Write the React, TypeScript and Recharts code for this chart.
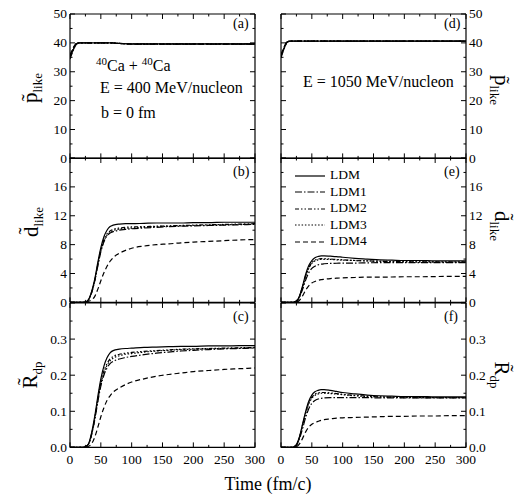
import React from 'react';
import { LineChart, Line, XAxis, YAxis, Legend } from 'recharts';

// time axis (fm/c)
const times = [0, 5, 10, 15, 20, 25, 30, 35, 40, 45, 50, 55, 60, 65, 70, 80, 90, 100, 120, 140, 160, 180, 200, 225, 250, 275, 300];

const seriesNames = ['LDM', 'LDM1', 'LDM2', 'LDM3', 'LDM4'];

// (a) p_like, E = 400 MeV/nucleon
const a_LDM = [35.0, 37.6, 39.6, 40.0, 40.0, 40.0, 40.0, 40.0, 40.0, 40.0, 40.0, 40.0, 40.0, 40.0, 39.95, 39.8, 39.7, 39.65, 39.65, 39.65, 39.65, 39.65, 39.65, 39.65, 39.65, 39.65, 39.65];
const a_LDM1 = [34.4, 37.2, 39.4, 39.95, 40.0, 40.0, 40.0, 40.0, 40.0, 40.0, 40.0, 40.0, 40.0, 40.0, 39.95, 39.8, 39.7, 39.6, 39.6, 39.6, 39.6, 39.6, 39.6, 39.6, 39.6, 39.6, 39.6];
const a_LDM2 = [35.4, 37.9, 39.7, 40.0, 40.0, 40.0, 40.0, 40.0, 40.0, 40.0, 40.0, 40.0, 40.0, 40.0, 39.95, 39.8, 39.7, 39.65, 39.65, 39.65, 39.65, 39.65, 39.65, 39.65, 39.65, 39.65, 39.65];
const a_LDM3 = [34.8, 37.4, 39.5, 40.0, 40.0, 40.0, 40.0, 40.0, 40.0, 40.0, 40.0, 40.0, 40.0, 40.0, 39.95, 39.8, 39.7, 39.6, 39.6, 39.6, 39.6, 39.6, 39.6, 39.6, 39.6, 39.6, 39.6];
const a_LDM4 = [35.8, 38.2, 39.8, 40.0, 40.0, 40.0, 40.0, 40.0, 40.0, 40.0, 40.0, 40.0, 40.0, 40.0, 39.95, 39.8, 39.7, 39.6, 39.6, 39.6, 39.6, 39.6, 39.6, 39.6, 39.6, 39.6, 39.6];

// (b) d_like, 400
const b_LDM = [0, 0, 0, 0, 0, 0.05, 0.4, 1.5, 3.2, 5.5, 7.6, 9.1, 10.0, 10.5, 10.7, 10.85, 10.9, 10.9, 10.95, 11.0, 11.0, 11.0, 11.05, 11.05, 11.1, 11.1, 11.1];
const b_LDM1 = [0, 0, 0, 0, 0, 0.05, 0.35, 1.3, 2.9, 5.0, 7.0, 8.4, 9.2, 9.6, 9.8, 10.0, 10.1, 10.2, 10.3, 10.4, 10.5, 10.55, 10.6, 10.65, 10.7, 10.75, 10.8];
const b_LDM2 = [0, 0, 0, 0, 0, 0.05, 0.35, 1.4, 3.0, 5.2, 7.3, 8.7, 9.5, 9.9, 10.1, 10.3, 10.4, 10.45, 10.5, 10.55, 10.6, 10.65, 10.7, 10.75, 10.8, 10.85, 10.9];
const b_LDM3 = [0, 0, 0, 0, 0, 0.05, 0.35, 1.35, 3.0, 5.1, 7.1, 8.5, 9.3, 9.7, 9.95, 10.15, 10.25, 10.3, 10.4, 10.5, 10.55, 10.6, 10.65, 10.7, 10.75, 10.8, 10.85];
const b_LDM4 = [0, 0, 0, 0, 0, 0, 0.15, 0.35, 0.8, 1.8, 3.0, 4.1, 5.0, 5.7, 6.2, 6.8, 7.2, 7.5, 7.8, 8.0, 8.1, 8.25, 8.35, 8.45, 8.55, 8.65, 8.7];

// (c) R_dp, 400
const c_LDM = [0, 0, 0, 0, 0, 0.002, 0.01, 0.04, 0.085, 0.14, 0.19, 0.225, 0.248, 0.262, 0.268, 0.272, 0.274, 0.275, 0.277, 0.278, 0.279, 0.28, 0.28, 0.281, 0.281, 0.282, 0.282];
const c_LDM1 = [0, 0, 0, 0, 0, 0.002, 0.009, 0.035, 0.075, 0.125, 0.17, 0.2, 0.22, 0.232, 0.238, 0.245, 0.249, 0.252, 0.257, 0.261, 0.264, 0.267, 0.269, 0.271, 0.273, 0.274, 0.275];
const c_LDM2 = [0, 0, 0, 0, 0, 0.002, 0.009, 0.037, 0.08, 0.133, 0.18, 0.212, 0.232, 0.245, 0.252, 0.258, 0.261, 0.263, 0.266, 0.268, 0.27, 0.272, 0.273, 0.274, 0.275, 0.276, 0.277];
const c_LDM3 = [0, 0, 0, 0, 0, 0.002, 0.009, 0.036, 0.078, 0.13, 0.176, 0.207, 0.227, 0.24, 0.247, 0.254, 0.258, 0.26, 0.264, 0.267, 0.269, 0.271, 0.272, 0.273, 0.274, 0.275, 0.276];
const c_LDM4 = [0, 0, 0, 0, 0, 0, 0.003, 0.01, 0.028, 0.055, 0.085, 0.11, 0.13, 0.143, 0.153, 0.165, 0.174, 0.181, 0.19, 0.197, 0.202, 0.206, 0.21, 0.213, 0.216, 0.218, 0.22];

// (d) p_like, E = 1050 MeV/nucleon
const d_LDM = [35.3, 38.2, 40.3, 40.6, 40.6, 40.6, 40.6, 40.6, 40.6, 40.6, 40.6, 40.6, 40.6, 40.6, 40.6, 40.6, 40.6, 40.6, 40.6, 40.6, 40.6, 40.6, 40.6, 40.6, 40.6, 40.6, 40.6];
const d_LDM1 = [34.8, 37.9, 40.2, 40.6, 40.6, 40.6, 40.6, 40.6, 40.6, 40.6, 40.6, 40.6, 40.6, 40.6, 40.6, 40.6, 40.6, 40.6, 40.6, 40.6, 40.6, 40.6, 40.6, 40.6, 40.6, 40.6, 40.6];
const d_LDM2 = [35.6, 38.4, 40.4, 40.6, 40.6, 40.6, 40.6, 40.6, 40.6, 40.6, 40.6, 40.6, 40.6, 40.6, 40.6, 40.6, 40.6, 40.6, 40.6, 40.6, 40.6, 40.6, 40.6, 40.6, 40.6, 40.6, 40.6];
const d_LDM3 = [35.0, 38.0, 40.2, 40.6, 40.6, 40.6, 40.6, 40.6, 40.6, 40.6, 40.6, 40.6, 40.6, 40.6, 40.6, 40.6, 40.6, 40.6, 40.6, 40.6, 40.6, 40.6, 40.6, 40.6, 40.6, 40.6, 40.6];
const d_LDM4 = [35.9, 38.6, 40.4, 40.6, 40.6, 40.6, 40.6, 40.6, 40.6, 40.6, 40.6, 40.6, 40.6, 40.6, 40.6, 40.6, 40.6, 40.6, 40.6, 40.6, 40.6, 40.6, 40.6, 40.6, 40.6, 40.6, 40.6];

// (e) d_like, 1050
const e_LDM = [0, 0, 0, 0, 0.02, 0.2, 0.9, 2.3, 3.9, 5.1, 5.8, 6.2, 6.35, 6.45, 6.45, 6.4, 6.35, 6.25, 6.1, 6.0, 5.9, 5.85, 5.8, 5.8, 5.75, 5.75, 5.75];
const e_LDM1 = [0, 0, 0, 0, 0.02, 0.15, 0.7, 1.8, 3.1, 4.1, 4.7, 5.0, 5.2, 5.3, 5.35, 5.4, 5.42, 5.45, 5.45, 5.48, 5.5, 5.5, 5.5, 5.5, 5.5, 5.5, 5.5];
const e_LDM2 = [0, 0, 0, 0, 0.02, 0.18, 0.85, 2.2, 3.7, 4.8, 5.5, 5.85, 6.0, 6.05, 6.05, 6.0, 5.95, 5.9, 5.8, 5.75, 5.7, 5.65, 5.65, 5.6, 5.6, 5.6, 5.6];
const e_LDM3 = [0, 0, 0, 0, 0.02, 0.18, 0.8, 2.1, 3.6, 4.7, 5.4, 5.75, 5.9, 5.95, 5.95, 5.95, 5.9, 5.85, 5.8, 5.75, 5.7, 5.65, 5.62, 5.6, 5.6, 5.58, 5.58];
const e_LDM4 = [0, 0, 0, 0, 0.01, 0.05, 0.3, 0.9, 1.7, 2.3, 2.7, 2.9, 3.05, 3.15, 3.2, 3.3, 3.35, 3.4, 3.45, 3.5, 3.5, 3.52, 3.55, 3.55, 3.58, 3.6, 3.6];

// (f) R_dp, 1050
const f_LDM = [0, 0, 0, 0, 0.001, 0.008, 0.03, 0.065, 0.1, 0.128, 0.145, 0.154, 0.158, 0.16, 0.16, 0.158, 0.155, 0.152, 0.148, 0.145, 0.143, 0.142, 0.141, 0.141, 0.14, 0.14, 0.14];
const f_LDM1 = [0, 0, 0, 0, 0.001, 0.006, 0.024, 0.052, 0.083, 0.107, 0.122, 0.13, 0.134, 0.136, 0.137, 0.138, 0.138, 0.138, 0.138, 0.138, 0.137, 0.137, 0.137, 0.137, 0.137, 0.137, 0.137];
const f_LDM2 = [0, 0, 0, 0, 0.001, 0.007, 0.028, 0.062, 0.096, 0.123, 0.139, 0.147, 0.151, 0.152, 0.152, 0.151, 0.149, 0.147, 0.144, 0.142, 0.14, 0.139, 0.139, 0.138, 0.138, 0.138, 0.138];
const f_LDM3 = [0, 0, 0, 0, 0.001, 0.007, 0.027, 0.06, 0.094, 0.12, 0.136, 0.144, 0.148, 0.15, 0.15, 0.149, 0.148, 0.146, 0.143, 0.141, 0.14, 0.139, 0.138, 0.138, 0.138, 0.138, 0.138];
const f_LDM4 = [0, 0, 0, 0, 0, 0.002, 0.01, 0.025, 0.043, 0.056, 0.064, 0.069, 0.072, 0.075, 0.077, 0.079, 0.081, 0.082, 0.083, 0.084, 0.085, 0.086, 0.086, 0.087, 0.087, 0.088, 0.088];

// tick positions (majors + minors)
const xTicks = [0, 25, 50, 75, 100, 125, 150, 175, 200, 225, 250, 275, 300];
const pTicks = [0, 5, 10, 15, 20, 25, 30, 35, 40, 45, 50];
const dTicks = [0, 2, 4, 6, 8, 10, 12, 14, 16, 18, 20];
const rTicks = [0, 0.05, 0.1, 0.15, 0.2, 0.25, 0.3, 0.35, 0.4];

const styles: Record<string, string | undefined> = {
  LDM: undefined,
  LDM1: '7 2 1.5 2',
  LDM2: '4 2 1.5 2 1.5 2',
  LDM3: '1.5 1.8',
  LDM4: '5 3',
};

const FONT = "'Liberation Serif', 'Times New Roman', serif";
const PW = 185;
const PH = 144.4;
const LAB = 42;
const PAD = 14;

const table = (cols: number[][]) =>
  times.map((t, i) => {
    const row: any = { t };
    seriesNames.forEach((n, k) => (row[n] = cols[k][i]));
    return row;
  });

const mkTick = (side: string, box: any, major: number, show: boolean, fmt: (v: number) => string, skip?: number) => (p: any) => {
  const v = p.payload.value;
  const isMajor = Math.abs(v / major - Math.round(v / major)) < 1e-6;
  const len = isMajor ? 5 : 2.5;
  const lab = show && isMajor && v !== skip;
  const ts = { fontFamily: FONT, fontSize: 13.5, fill: '#000' } as any;
  if (side === 'bottom' || side === 'top') {
    const x = p.x;
    const y0 = side === 'bottom' ? box.y1 : box.y0;
    const y1 = side === 'bottom' ? box.y1 - len : box.y0 + len;
    return (
      <g>
        <line x1={x} x2={x} y1={y0} y2={y1} stroke="#000" strokeWidth={1} />
        {lab && <text x={x} y={box.y1 + 17} textAnchor="middle" {...ts}>{fmt(v)}</text>}
      </g>
    );
  }
  const y = p.y;
  const x0 = side === 'left' ? box.x0 : box.x1;
  const x1 = side === 'left' ? box.x0 + len : box.x1 - len;
  return (
    <g>
      <line x1={x0} x2={x1} y1={y} y2={y} stroke="#000" strokeWidth={1} />
      {lab && (
        <text x={side === 'left' ? box.x0 - 3 : box.x1 + 3} y={y} dy="0.33em" textAnchor={side === 'left' ? 'end' : 'start'} {...ts}>
          {fmt(v)}
        </text>
      )}
    </g>
  );
};

const LegendBox = (props: any) => (
  <div style={{ fontFamily: FONT, fontSize: 13.5, lineHeight: '16.5px' }}>
    {(props.payload || []).map((e: any) => (
      <div key={e.value} style={{ display: 'flex', alignItems: 'center', height: 16.5 }}>
        <svg width={30} height={6} style={{ marginRight: 5 }}>
          <line x1={0} x2={30} y1={3} y2={3} stroke="#000" strokeWidth={1.2} strokeDasharray={styles[e.value]} />
        </svg>
        <span>{e.value}</span>
      </div>
    ))}
  </div>
);

type PanelProps = {
  left: number;
  top: number;
  data: any[];
  domain: [number, number];
  ticks: number[];
  major: number;
  fmt: (v: number) => string;
  side: 'left' | 'right';
  bottom?: boolean;
  skip?: number;
  legend?: boolean;
};

const intFmt = (v: number) => String(Math.round(v));
const decFmt = (v: number) => v.toFixed(1);

function Panel({ left, top, data, domain, ticks, major, fmt, side, bottom, skip, legend }: PanelProps) {
  const yl = side === 'left' ? LAB : PAD;
  const yr = side === 'left' ? PAD : LAB;
  const tb = 10;
  const bb = bottom ? 28 : 10;
  const box = { x0: yl, x1: yl + PW, y0: tb, y1: tb + PH };
  const axisLine = { stroke: '#000', strokeWidth: 1.2 };
  return (
    <div style={{ position: 'absolute', left: left - yl, top: top - tb }}>
      <LineChart width={yl + PW + yr} height={tb + PH + bb} data={data} margin={{ top: 0, right: 0, bottom: 0, left: 0 }}>
        <XAxis xAxisId="b" dataKey="t" type="number" domain={[0, 300]} ticks={xTicks} interval={0} allowDataOverflow orientation="bottom" height={bb} tickLine={false} axisLine={axisLine} tick={mkTick('bottom', box, 50, !!bottom, intFmt)} />
        <XAxis xAxisId="t" dataKey="t" type="number" domain={[0, 300]} ticks={xTicks} interval={0} allowDataOverflow orientation="top" height={tb} tickLine={false} axisLine={axisLine} tick={mkTick('top', box, 50, false, intFmt)} />
        <YAxis yAxisId="l" type="number" domain={domain} ticks={ticks} interval={0} allowDataOverflow orientation="left" width={yl} tickLine={false} axisLine={axisLine} tick={mkTick('left', box, major, side === 'left', fmt, skip)} />
        <YAxis yAxisId="r" type="number" domain={domain} ticks={ticks} interval={0} allowDataOverflow orientation="right" width={yr} tickLine={false} axisLine={axisLine} tick={mkTick('right', box, major, side === 'right', fmt, skip)} />
        {legend && (
          <Legend layout="vertical" align="center" verticalAlign="middle" content={<LegendBox />} wrapperStyle={{ position: 'absolute', left: yl + 14, top: 19, width: 'auto', height: 'auto' }} />
        )}
        {seriesNames.map((n) => (
          <Line key={n} xAxisId="b" yAxisId="l" dataKey={n} name={n} type="monotone" stroke="#000" strokeWidth={1.2} strokeDasharray={styles[n]} dot={false} isAnimationActive={false} />
        ))}
      </LineChart>
    </div>
  );
}

const abs = (x: number, y: number, extra: any = {}): any => ({
  position: 'absolute',
  left: x,
  top: y,
  fontFamily: FONT,
  color: '#000',
  whiteSpace: 'nowrap',
  lineHeight: 1,
  ...extra,
});

function YTitle({ x, y, main, sub, rot }: { x: number; y: number; main: string; sub: string; rot: number }) {
  return (
    <div style={abs(x, y, { transform: `translate(-50%, -50%) rotate(${rot}deg)`, fontSize: 21 })}>
      <span>{main}</span>
      <span style={{ fontSize: 13, position: 'relative', top: 5 }}>{sub}</span>
    </div>
  );
}

export default function App() {
  const XL = 70;
  const XR = 281;
  const rows = [14, 14 + PH, 14 + 2 * PH];
  return (
    <div style={{ position: 'absolute', left: 0, top: 0, width: 531, height: 501, background: '#fff', overflow: 'hidden' }}>
      <Panel left={XL} top={rows[0]} data={table([a_LDM, a_LDM1, a_LDM2, a_LDM3, a_LDM4])} domain={[0, 50]} ticks={pTicks} major={10} fmt={intFmt} side="left" />
      <Panel left={XL} top={rows[1]} data={table([b_LDM, b_LDM1, b_LDM2, b_LDM3, b_LDM4])} domain={[0, 20]} ticks={dTicks} major={4} fmt={intFmt} side="left" skip={20} />
      <Panel left={XL} top={rows[2]} data={table([c_LDM, c_LDM1, c_LDM2, c_LDM3, c_LDM4])} domain={[0, 0.4]} ticks={rTicks} major={0.1} fmt={decFmt} side="left" skip={0.4} bottom />
      <Panel left={XR} top={rows[0]} data={table([d_LDM, d_LDM1, d_LDM2, d_LDM3, d_LDM4])} domain={[0, 50]} ticks={pTicks} major={10} fmt={intFmt} side="right" />
      <Panel left={XR} top={rows[1]} data={table([e_LDM, e_LDM1, e_LDM2, e_LDM3, e_LDM4])} domain={[0, 20]} ticks={dTicks} major={4} fmt={intFmt} side="right" skip={20} legend />
      <Panel left={XR} top={rows[2]} data={table([f_LDM, f_LDM1, f_LDM2, f_LDM3, f_LDM4])} domain={[0, 0.4]} ticks={rTicks} major={0.1} fmt={decFmt} side="right" skip={0.4} bottom />

      {/* panel tags */}
      <div style={abs(233, 17, { fontSize: 14 })}>(a)</div>
      <div style={abs(233, 165, { fontSize: 14 })}>(b)</div>
      <div style={abs(233, 310, { fontSize: 14 })}>(c)</div>
      <div style={abs(444, 17, { fontSize: 14 })}>(d)</div>
      <div style={abs(444, 165, { fontSize: 14 })}>(e)</div>
      <div style={abs(444, 310, { fontSize: 14 })}>(f)</div>

      {/* annotations */}
      <div style={abs(96, 56, { fontSize: 16 })}>
        <sup style={{ fontSize: 11 }}>40</sup>Ca + <sup style={{ fontSize: 11 }}>40</sup>Ca
      </div>
      <div style={abs(100, 80, { fontSize: 16 })}>E = 400 MeV/nucleon</div>
      <div style={abs(101, 105, { fontSize: 16 })}>b = 0 fm</div>
      <div style={abs(303, 74, { fontSize: 16 })}>E = 1050 MeV/nucleon</div>

      {/* axis titles */}
      <YTitle x={30} y={88} main={'p\u0303'} sub="like" rot={-90} />
      <YTitle x={31} y={222} main={'d\u0303'} sub="like" rot={-90} />
      <YTitle x={30} y={375} main={'R\u0303'} sub="dp" rot={-90} />
      <YTitle x={501} y={90} main={'p\u0303'} sub="like" rot={90} />
      <YTitle x={501} y={226} main={'d\u0303'} sub="like" rot={90} />
      <YTitle x={501} y={375} main={'R\u0303'} sub="dp" rot={90} />
      <div style={abs(268, 484, { fontSize: 18, transform: 'translate(-50%, -50%)' })}>Time (fm/c)</div>
    </div>
  );
}
